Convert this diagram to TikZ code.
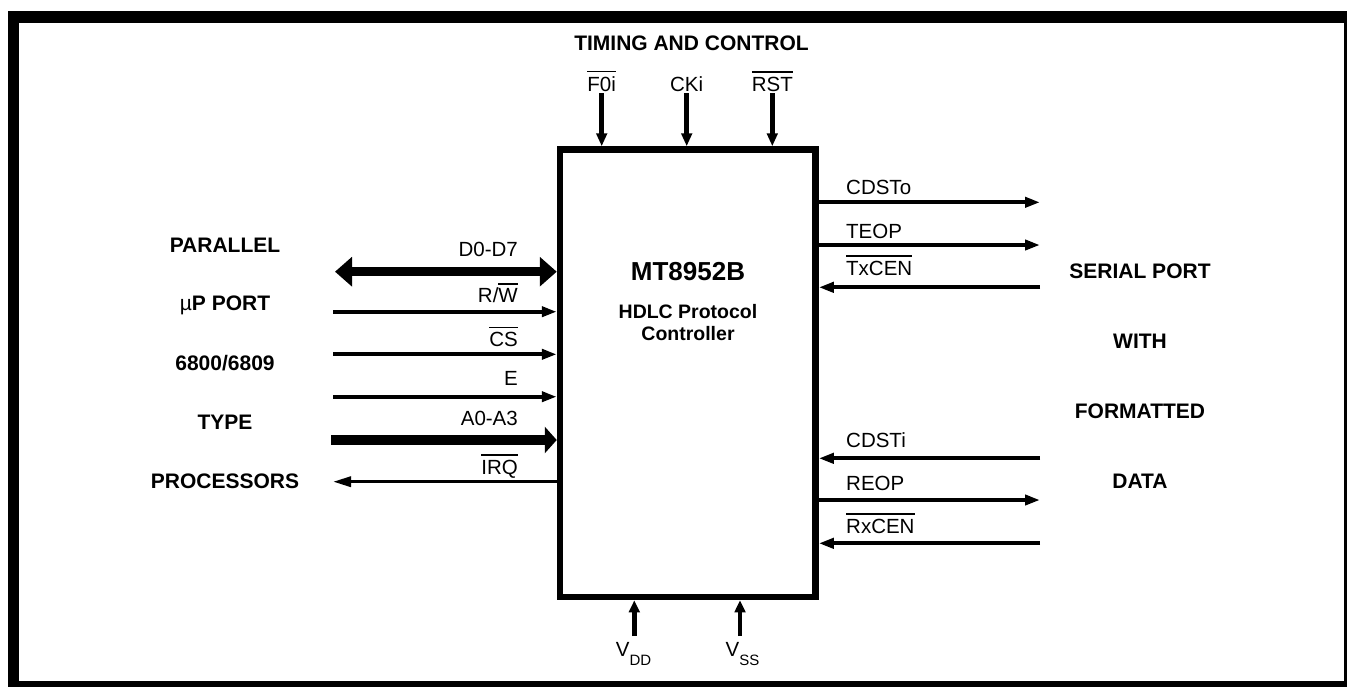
\documentclass[tikz,border=0pt]{standalone}
\usepackage{fontspec}
\setmainfont{Liberation Sans}
\usetikzlibrary{arrows.meta}
\newcommand\ovl[1]{{\setbox0\hbox{#1}\rlap{\rule[\dimexpr\ht0+4pt\relax]{\wd0}{1.5pt}}\box0}}
\begin{document}
\begin{tikzpicture}[x=1pt,y=-1pt,
  lbl/.style={font=\fontsize{20.5}{24}\selectfont, inner sep=0pt},
  blbl/.style={font=\fontsize{21}{25}\selectfont\bfseries, inner sep=0pt},
  chiptxt/.style={font=\fontsize{19.5}{22}\selectfont\bfseries, inner sep=0pt, anchor=base},
  sig/.style={line width=4pt, -{Triangle[length=15pt,width=10pt]}},
  irqsig/.style={line width=3.3pt, -{Triangle[length=18pt,width=10pt]}},
  topsig/.style={line width=4.7pt, -{Triangle[length=13pt,width=10.5pt]}},
  pwrsig/.style={line width=4.7pt, -{Triangle[length=12pt,width=10.5pt]}},
  bus/.style={line width=9.3pt},
  chipbox/.style={draw, line width=6.5pt, minimum width=255.5pt, minimum height=447.5pt, inner sep=0pt}
]
\path[use as bounding box, clip] (0,0) rectangle (1347,686);
% frame
\draw[line width=11.5pt] (13.5,17) rectangle (1349.75,686.75);
% chip
\node[chipbox] (chip) at (687.75,373.25) {};
\node[font=\fontsize{26}{30}\selectfont\bfseries, inner sep=0pt, anchor=base] (name) at (688,280.5) {MT8952B};
\node[chiptxt] (desc1) at (688,318.5) {HDLC Protocol};
\node[chiptxt] (desc2) at (688,340) {Controller};
% timing and control
\node[blbl, anchor=base] (tc) at (691.5,50.7) {TIMING AND CONTROL};
\node[lbl, anchor=base] (lf0) at (601.7,91) {\ovl{F0i}};
\node[lbl, anchor=base] (lck) at (686.7,91) {CKi};
\node[lbl, anchor=base] (lrst) at (772.3,91) {\ovl{RST}};
\coordinate (f0) at (601.7,93.3);
\coordinate (ck) at (686.7,93.3);
\coordinate (rst) at (772.3,93.3);
\draw[topsig] (f0) -- (f0 |- chip.north);
\draw[topsig] (ck) -- (ck |- chip.north);
\draw[topsig] (rst) -- (rst |- chip.north);
% power
\coordinate (vdd) at (634.3,636);
\coordinate (vss) at (740,636);
\draw[pwrsig] (vdd) -- (vdd |- chip.south);
\draw[pwrsig] (vss) -- (vss |- chip.south);
\node[lbl, anchor=base] (lvdd) at (633.5,656.7) {V\raisebox{-8.3pt}{\fontsize{15}{18}\selectfont DD}};
\node[lbl, anchor=base] (lvss) at (742.5,656.7) {V\raisebox{-8.3pt}{\fontsize{15}{18}\selectfont SS}};
% left side labels
\node[blbl, anchor=base] (p1) at (225,252.7) {PARALLEL};
\node[blbl, anchor=base] (p2) at (225,310.7) {{\mdseries µ}P PORT};
\node[blbl, anchor=base] (p3) at (225,370) {6800/6809};
\node[blbl, anchor=base] (p4) at (225,429.3) {TYPE};
\node[blbl, anchor=base] (p5) at (225,488.3) {PROCESSORS};
% left signals
\coordinate (d0) at (335,271.7);
\coordinate (rw) at (333,311.7);
\coordinate (cs) at (333,354.3);
\coordinate (e) at (333,396.7);
\coordinate (a0) at (331,440);
\coordinate (irq) at (333,481.7);
\draw[bus, {Triangle[length=17pt,width=28.7pt]}-{Triangle[length=17pt,width=28.7pt]}] (d0) -- (d0 -| chip.west);
\draw[sig] (rw) -- (rw -| chip.west);
\draw[sig] (cs) -- (cs -| chip.west);
\draw[sig] (e) -- (e -| chip.west);
\draw[bus, -{Triangle[length=12pt,width=26pt]}] (a0) -- (a0 -| chip.west);
\draw[irqsig] (irq -| chip.west) -- (irq);
\node[lbl, anchor=base east] (ld0) at (518,256.7) {D0-D7};
\node[lbl, anchor=base east] (lrw) at (518,302.7) {R/\ovl{W}};
\node[lbl, anchor=base east] (lcs) at (518,346.7) {\ovl{CS}};
\node[lbl, anchor=base east] (le) at (518,385) {E};
\node[lbl, anchor=base east] (la0) at (518,425) {A0-A3};
\node[lbl, anchor=base east] (lirq) at (518,474) {\ovl{IRQ}};
% right signals
\coordinate (cdsto) at (1040,202.3);
\coordinate (teop) at (1040,245);
\coordinate (txcen) at (1040,287.3);
\coordinate (cdsti) at (1040,458.3);
\coordinate (reop) at (1040,500);
\coordinate (rxcen) at (1040,543.3);
\draw[sig] (cdsto -| chip.east) -- (cdsto);
\draw[sig] (teop -| chip.east) -- (teop);
\draw[sig] (txcen) -- (txcen -| chip.east);
\draw[sig] (cdsti) -- (cdsti -| chip.east);
\draw[sig] (reop -| chip.east) -- (reop);
\draw[sig] (rxcen) -- (rxcen -| chip.east);
\node[lbl, anchor=base west] (lcdsto) at (846,194.3) {CDSTo};
\node[lbl, anchor=base west] (lteop) at (846,238.3) {TEOP};
\node[lbl, anchor=base west] (ltxcen) at (846,275) {\ovl{TxCEN}};
\node[lbl, anchor=base west] (lcdsti) at (846,447.3) {CDSTi};
\node[lbl, anchor=base west] (lreop) at (846,490) {REOP};
\node[lbl, anchor=base west] (lrxcen) at (846,533.3) {\ovl{RxCEN}};
% right side labels
\node[blbl, anchor=base] (s1) at (1140,278) {SERIAL PORT};
\node[blbl, anchor=base] (s2) at (1140,348) {WITH};
\node[blbl, anchor=base] (s3) at (1140,418) {FORMATTED};
\node[blbl, anchor=base] (s4) at (1140,488) {DATA};
\end{tikzpicture}
\end{document}
